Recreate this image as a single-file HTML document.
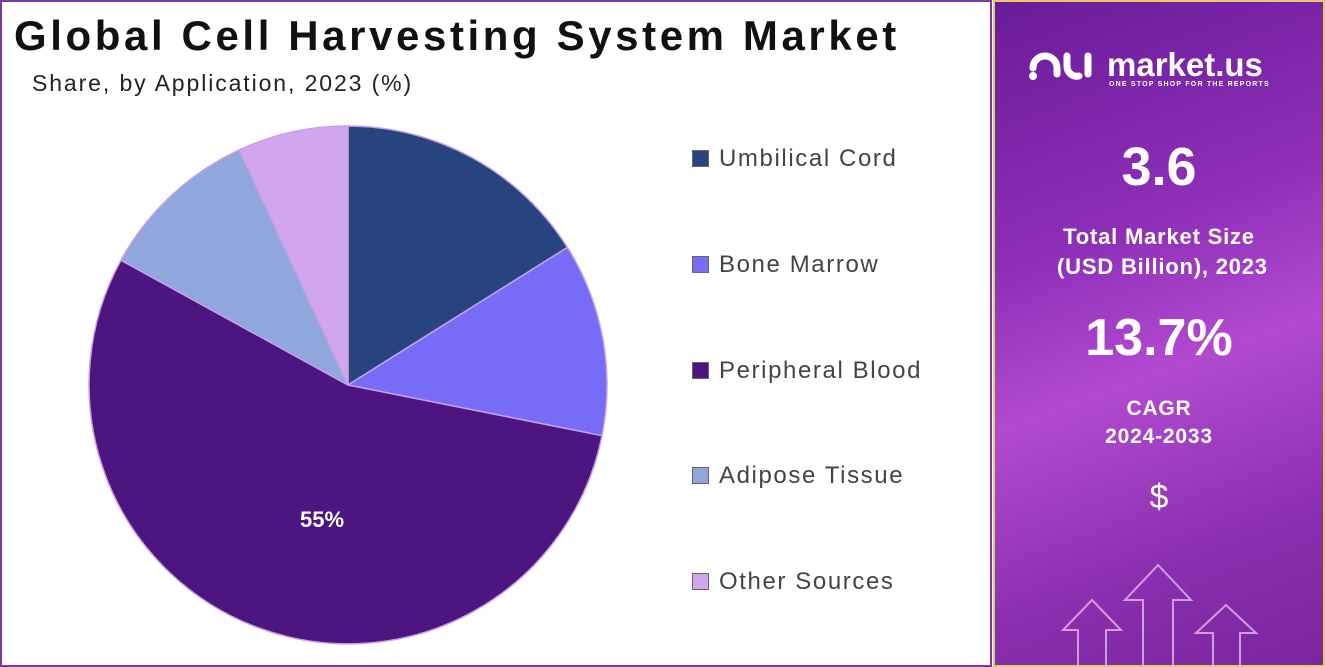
<!DOCTYPE html>
<html><head><style>
body{margin:0;width:1325px;height:667px;background:#fff;font-family:"Liberation Sans",sans-serif;position:relative;overflow:hidden}
.lp{position:absolute;left:0;top:0;width:988px;height:663px;border:2px solid #7b3aa0}
.t{position:absolute;left:14px;top:12px;font-size:42px;font-weight:bold;color:#111;letter-spacing:3.6px;white-space:nowrap}
.st{position:absolute;left:32px;top:70px;font-size:23px;color:#222;letter-spacing:1.9px}
.lg{position:absolute;left:692px;font-size:24px;color:#444;letter-spacing:1.6px;white-space:nowrap}
.lg i{display:inline-block;width:17px;height:17px;margin-right:10px;vertical-align:-1px;border:1px solid #666;box-sizing:border-box}
.rp{position:absolute;left:993px;top:0;width:332px;height:667px;background:linear-gradient(160deg,#6a1b9a 0%,#8e2fb8 35%,#b24ad0 55%,#8a2fb0 80%,#7a259e 100%);border:2px solid #e8c86a;box-sizing:border-box;color:#fff;text-align:center;font-weight:bold}
.rp div{position:absolute;left:0;width:100%;white-space:nowrap}
</style></head><body>
<div class="lp"></div>
<div class="t">Global Cell Harvesting System Market</div>
<div class="st">Share, by Application, 2023 (%)</div>
<svg width="990" height="667" style="position:absolute;left:0;top:0">
<g stroke="#c8a0e8" stroke-width="1.5">
<path d="M348,385 L348,126 A259,259 0 0 1 567.4,247.4 Z" fill="#27447f"/>
<path d="M348,385 L567.4,247.4 A259,259 0 0 1 602,435.7 Z" fill="#776cf7"/>
<path d="M348,385 L602,435.7 A259,259 0 1 1 121,260.2 Z" fill="#4c1580"/>
<path d="M348,385 L121,260.2 A259,259 0 0 1 239.3,149.9 Z" fill="#8fa7dc"/>
<path d="M348,385 L239.3,149.9 A259,259 0 0 1 348,126 Z" fill="#d2a6ef"/>
</g>
<text x="322" y="527" fill="#fff" font-size="22" font-weight="bold" text-anchor="middle" font-family="Liberation Sans">55%</text>
</svg>
<div class="lg" style="top:145px"><i style="background:#27447f"></i>Umbilical Cord</div>
<div class="lg" style="top:251px"><i style="background:#776cf7"></i>Bone Marrow</div>
<div class="lg" style="top:357px"><i style="background:#4c1580"></i>Peripheral Blood</div>
<div class="lg" style="top:462px"><i style="background:#8fa7dc"></i>Adipose Tissue</div>
<div class="lg" style="top:568px"><i style="background:#d2a6ef"></i>Other Sources</div>
<div class="rp">
<svg width="332" height="667" style="position:absolute;left:-2px;top:-2px">
<g fill="none" stroke="#fff" stroke-width="7" stroke-linecap="round">
<path d="M40,68 A12,12 0 0 1 64,68 L64,74"/>
<path d="M74,56 L74,66 A10,10 0 0 0 86,76"/>
<path d="M95,56 L95,74"/>
</g>
<circle cx="40" cy="76" r="4" fill="#fff"/>
<g fill="none" stroke="#e6b8f0" stroke-width="2" opacity="0.8">
<path d="M150,667 L150,600 L132,600 L165,565 L198,600 L180,600 L180,667"/>
<path d="M85,667 L85,630 L70,630 L99,600 L128,630 L113,630 L113,667"/>
<path d="M220,667 L220,633 L203,633 L233,605 L263,633 L247,633 L247,667"/>
</g>
</svg>
<div style="top:44px;left:112px;width:200px;text-align:left;font-size:33px">market.us</div>
<div style="top:79px;left:114px;width:200px;text-align:left;font-size:7px;letter-spacing:1.2px">ONE STOP SHOP FOR THE REPORTS</div>
<div style="top:134px;font-size:54px">3.6</div>
<div style="top:220px;font-size:22px;line-height:30px;letter-spacing:0.8px">Total Market Size<br>&nbsp;(USD Billion), 2023</div>
<div style="top:306px;font-size:52px">13.7%</div>
<div style="top:393px;font-size:21px;line-height:28px;letter-spacing:0.8px">CAGR<br>2024-2033</div>
<div style="top:476px;font-size:34px;font-weight:normal">$</div>
</div>
</body></html>
